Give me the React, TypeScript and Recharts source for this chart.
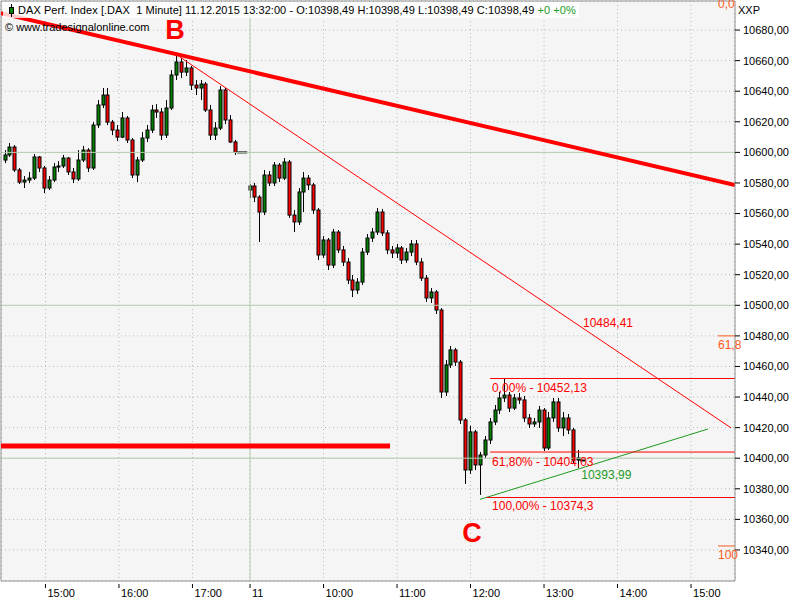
import React from "react";
import {
  ComposedChart,
  Bar,
  XAxis,
  YAxis,
  CartesianGrid,
  ReferenceLine,
  ReferenceDot,
} from "recharts";

// 4-minute candles
// 10.12.2015 from 14:27, one bar every 4 minutes
const day1Open = [
  10595.0, 10598.3, 10603.5, 10588.5, 10580.6, 10581.9, 10583.2, 10597.0, 10589.8, 10576.7,
  10581.9, 10590.4, 10591.1, 10596.3, 10587.2, 10582.6, 10595.0, 10601.5, 10589.8, 10617.9,
  10631.0, 10637.5, 10619.8, 10614.6, 10610.0, 10622.5, 10608.1, 10585.2, 10595.0, 10609.4,
  10614.6, 10627.7, 10626.4, 10611.3, 10629.0, 10650.6, 10659.1, 10652.5, 10655.2, 10644.0,
  10642.1, 10644.7, 10627.7, 10611.3, 10615.9, 10640.8, 10621.2, 10606.8, 10600.0, 10600.0,
];
const day1High = [
  10601.5, 10606.1, 10604.8, 10589.8, 10584.5, 10587.2, 10598.9, 10597.6, 10591.1, 10584.5,
  10593.0, 10594.3, 10598.3, 10597.0, 10589.8, 10601.5, 10604.2, 10602.8, 10619.8, 10634.2,
  10642.1, 10642.1, 10621.2, 10617.9, 10626.4, 10623.8, 10609.4, 10597.0, 10613.3, 10617.9,
  10631.0, 10631.6, 10629.0, 10634.2, 10653.8, 10663.0, 10661.7, 10660.4, 10656.5, 10647.3,
  10647.3, 10646.0, 10631.0, 10619.8, 10643.4, 10642.1, 10624.4, 10608.1, 10600.0, 10600.0,
];
const day1Low = [
  10593.0, 10597.0, 10587.2, 10579.3, 10576.7, 10580.0, 10581.9, 10587.2, 10573.4, 10575.4,
  10580.6, 10587.2, 10589.8, 10585.2, 10580.0, 10581.3, 10593.7, 10587.2, 10588.5, 10615.9,
  10629.0, 10617.9, 10611.3, 10607.4, 10609.4, 10606.1, 10583.2, 10580.6, 10593.7, 10606.8,
  10612.7, 10622.5, 10608.1, 10609.4, 10627.7, 10647.3, 10648.6, 10649.9, 10640.8, 10637.5,
  10634.2, 10626.4, 10608.1, 10608.1, 10614.6, 10618.5, 10606.1, 10598.3, 10600.0, 10600.0,
];
const day1Close = [
  10598.3, 10603.5, 10588.5, 10580.6, 10581.9, 10583.2, 10597.0, 10589.8, 10576.7, 10581.9,
  10590.4, 10591.1, 10596.3, 10587.2, 10582.6, 10595.0, 10601.5, 10589.8, 10617.9, 10631.0,
  10637.5, 10619.8, 10614.6, 10610.0, 10622.5, 10608.1, 10585.2, 10595.0, 10609.4, 10614.6,
  10627.7, 10626.4, 10611.3, 10629.0, 10650.6, 10659.1, 10652.5, 10655.2, 10644.0, 10642.1,
  10644.7, 10627.7, 10611.3, 10615.9, 10640.8, 10621.2, 10606.8, 10600.0, 10600.0, 10600.0,
];

// 11.12.2015 from 09:00 to 13:32
const day2Open = [
  10575.4, 10578.0, 10570.8, 10561.0, 10585.2, 10580.0, 10591.7, 10583.2, 10593.7, 10559.0,
  10554.5, 10574.1, 10583.2, 10578.7, 10562.3, 10532.9, 10542.7, 10526.3, 10547.9, 10536.2,
  10528.3, 10516.5, 10510.0, 10515.2, 10534.8, 10544.0, 10547.9, 10561.0, 10547.3, 10536.2,
  10534.2, 10537.5, 10529.6, 10534.8, 10540.1, 10528.3, 10517.8, 10504.8, 10508.7, 10496.9,
  10443.3, 10461.0, 10470.8, 10462.9, 10425.0, 10392.3, 10417.2, 10395.6, 10402.1, 10411.9,
  10423.7, 10431.5, 10439.4, 10441.3, 10432.8, 10439.4, 10438.1, 10426.3, 10422.4, 10423.7,
  10431.5, 10406.7, 10426.3, 10436.8, 10419.8, 10426.3, 10418.5, 10398.8, 10398.5,
];
const day2High = [
  10579.3, 10580.0, 10572.1, 10588.5, 10587.8, 10593.7, 10593.0, 10596.3, 10595.0, 10562.3,
  10576.7, 10587.2, 10585.2, 10580.0, 10563.6, 10545.3, 10544.0, 10549.9, 10549.2, 10538.8,
  10530.9, 10519.8, 10517.8, 10537.5, 10546.6, 10550.5, 10563.6, 10563.0, 10549.2, 10538.8,
  10540.1, 10538.8, 10537.5, 10542.7, 10542.7, 10530.9, 10519.8, 10511.3, 10510.0, 10498.2,
  10464.2, 10473.4, 10472.1, 10464.2, 10426.3, 10421.1, 10418.5, 10404.1, 10414.5, 10426.3,
  10434.8, 10443.3, 10452.1, 10443.3, 10442.0, 10442.7, 10440.7, 10428.9, 10426.3, 10434.2,
  10432.8, 10430.2, 10439.4, 10439.4, 10430.2, 10428.9, 10419.8, 10405.4, 10398.5,
];
const day2Low = [
  10570.2, 10567.5, 10541.4, 10559.0, 10578.0, 10578.0, 10580.6, 10581.9, 10557.1, 10547.9,
  10552.5, 10561.0, 10575.4, 10559.7, 10529.6, 10530.9, 10523.1, 10524.4, 10534.2, 10525.7,
  10513.9, 10505.4, 10507.4, 10513.3, 10532.9, 10541.4, 10546.0, 10545.3, 10533.5, 10530.9,
  10530.9, 10527.0, 10527.7, 10532.2, 10526.3, 10515.9, 10502.2, 10501.5, 10494.3, 10439.4,
  10440.7, 10459.0, 10460.3, 10422.4, 10383.2, 10389.7, 10392.3, 10376.0, 10400.2, 10409.3,
  10421.7, 10428.9, 10436.8, 10430.2, 10431.5, 10435.5, 10423.7, 10419.8, 10420.4, 10419.8,
  10404.7, 10405.4, 10423.7, 10417.2, 10414.5, 10415.8, 10396.2, 10393.6, 10398.5,
];
const day2Close = [
  10578.0, 10570.8, 10561.0, 10585.2, 10580.0, 10591.7, 10583.2, 10593.7, 10559.0, 10554.5,
  10574.1, 10583.2, 10578.7, 10562.3, 10532.9, 10542.7, 10526.3, 10547.9, 10536.2, 10528.3,
  10516.5, 10510.0, 10515.2, 10534.8, 10544.0, 10547.9, 10561.0, 10547.3, 10536.2, 10534.2,
  10537.5, 10529.6, 10534.8, 10540.1, 10528.3, 10517.8, 10504.8, 10508.7, 10496.9, 10443.3,
  10461.0, 10470.8, 10462.9, 10425.0, 10392.3, 10417.2, 10395.6, 10402.1, 10411.9, 10423.7,
  10431.5, 10439.4, 10441.3, 10432.8, 10439.4, 10438.1, 10426.3, 10422.4, 10423.7, 10431.5,
  10406.7, 10426.3, 10436.8, 10419.8, 10426.3, 10418.5, 10398.8, 10400.2, 10398.5,
];

// axis: minutes, 0 = 11.12 09:00, day 1 squeezed so its session ends at the separator
const BAR_MINUTES = 4;
const DAY1_START = 14 * 60 + 27;
const DAY1_SHIFT = 17 * 60 + 47;
const DAY2_START = 9 * 60;
const DAY2_SHIFT = 9 * 60;

const xTickPos = [-167, -107, -47, 0, 60, 120, 180, 240, 300, 360];
const xTickLabels = ["15:00", "16:00", "17:00", "11", "10:00", "11:00", "12:00", "13:00", "14:00", "15:00"];
const yTicks = [10340, 10360, 10380, 10400, 10420, 10440, 10460, 10480, 10500, 10520, 10540, 10560, 10580, 10600, 10620, 10640, 10660, 10680];
const yMajor = [10600, 10500, 10400];

const X_MIN = -203.3;
const X_MAX = 395.9;
const Y_MIN = 10319.7;
const Y_MAX = 10699.0;

// drawings (time position, price)
const bigTrend = [{ x: X_MIN, y: 10691.1 }, { x: X_MAX, y: 10578.7 }];
const thinTrend = [{ x: -57.1, y: 10662.3 }, { x: 392.7, y: 10419.8 }];
const greenTrend = [{ x: 187.8, y: 10373.1 }, { x: 373.9, y: 10419.1 }];
const support = [{ x: X_MIN, y: 10408.0 }, { x: 114.3, y: 10408.0 }];
const fibLevels = [
  { price: 10452.13, from: 196, text: "0,00% - 10452,13", labelY: 10445.9 },
  { price: 10404.03, from: 196, text: "61,80% - 10404,03", labelY: 10397.5 },
  { price: 10374.3, from: 193, text: "100,00% - 10374,3", labelY: 10368.8 },
];
const edgeLevels = [
  { price: 10480.0, text: "61,8", labelY: 10474.0 },
  { price: 10342.6, text: "100", labelY: 10336.7 },
];

const build = (o: number[], h: number[], l: number[], c: number[], start: number, shift: number) =>
  o.map((open, i) => ({
    pos: start + i * BAR_MINUTES - shift,
    open,
    high: h[i],
    low: l[i],
    close: c[i],
  }));

const data = [
  ...build(day1Open, day1High, day1Low, day1Close, DAY1_START, DAY1_SHIFT),
  ...build(day2Open, day2High, day2Low, day2Close, DAY2_START, DAY2_SHIFT),
];

const FONT = "'Liberation Sans', Arial, sans-serif";
const RED = "#ff0000";
const ORANGE = "#ff5a1a";
const GREEN_LINE = "#1e9a1e";

const Candle = (props: any) => {
  const { x, y, width, height, payload } = props;
  const { open, close, high, low } = payload;
  const top = Math.min(y, y + height);
  const h = Math.abs(height);
  const span = high - low;
  const py = (v: number) => (span > 0 ? top + ((high - v) / span) * h : top);
  const cx = Math.round(x + width / 2) + 0.5;
  if (span === 0) {
    return <line x1={x - 0.5} x2={x + width + 0.5} y1={top} y2={top} stroke="#000" strokeWidth={2} />;
  }
  const bTop = py(Math.max(open, close));
  const bBot = py(Math.min(open, close));
  const up = close >= open;
  return (
    <g>
      <line x1={cx} x2={cx} y1={top} y2={top + h} stroke="#000" strokeWidth={1} />
      <rect
        x={cx - 1.5}
        y={bTop}
        width={3}
        height={Math.max(bBot - bTop, 1)}
        fill={up ? "#008000" : RED}
        stroke="#000"
        strokeWidth={1}
      />
    </g>
  );
};

const XTick = (props: any) => {
  const { x, y, payload } = props;
  const i = xTickPos.indexOf(payload.value);
  return (
    <g>
      <line x1={x} x2={x} y1={y + 3} y2={y + 7} stroke="#000" />
      <text x={x + 2} y={y + 16} fontSize={11} fontFamily={FONT} fill="#000" textAnchor="start">
        {xTickLabels[i]}
      </text>
    </g>
  );
};

const textLabel = (text: string, color: string, size = 12, weight: any = "normal") => (p: any) => {
  const { viewBox } = p;
  return (
    <text
      x={viewBox.x}
      y={viewBox.y}
      dy="0.35em"
      fontSize={size}
      fontFamily={FONT}
      fontWeight={weight}
      fill={color}
      textAnchor={weight === "bold" ? "middle" : "start"}
    >
      {text}
    </text>
  );
};

export default function App() {
  return (
    <div style={{ position: "relative", width: 800, height: 600, background: "#fff" }}>
      <style>{`body{margin:0}`}</style>
      <ComposedChart
        width={800}
        height={600}
        data={data}
        margin={{ top: 1, right: 0, left: 1, bottom: 0 }}
      >
        <CartesianGrid fill="#f5f5f5" stroke="#b4bcb4" strokeDasharray="1 3" />
        <XAxis
          dataKey="pos"
          type="number"
          domain={[X_MIN, X_MAX]}
          allowDataOverflow
          ticks={xTickPos}
          interval={0}
          height={19}
          tickLine={false}
          tickSize={0}
          tickMargin={0}
          axisLine={{ stroke: "#909090" }}
          tick={<XTick />}
        />
        <YAxis
          orientation="right"
          type="number"
          domain={[Y_MIN, Y_MAX]}
          allowDataOverflow
          ticks={yTicks}
          interval={0}
          width={65}
          tickSize={5}
          tickMargin={3}
          tickLine={{ stroke: "#000" }}
          axisLine={{ stroke: "#909090" }}
          tick={{ fill: "#000", fontSize: 11, fontFamily: FONT }}
          tickFormatter={(v: number) => v.toFixed(2).replace(".", ",")}
        />

        {yMajor.map((v) => (
          <ReferenceLine key={v} y={v} stroke="#b7cdb2" strokeWidth={1} />
        ))}
        <ReferenceLine x={0} stroke="#b7cdb2" strokeWidth={1} />
        <ReferenceLine x={X_MIN} stroke="#909090" />
        <ReferenceLine y={Y_MAX} stroke="#909090" />

        <Bar
          dataKey={(d: any) => [d.low, d.high]}
          barSize={4}
          shape={<Candle />}
          isAnimationActive={false}
        />

        <ReferenceLine segment={support} stroke={RED} strokeWidth={5} ifOverflow="hidden" />
        <ReferenceLine segment={bigTrend} stroke={RED} strokeWidth={4} ifOverflow="hidden" />
        <ReferenceLine segment={thinTrend} stroke={RED} strokeWidth={1} ifOverflow="hidden" />
        <ReferenceLine segment={greenTrend} stroke={GREEN_LINE} strokeWidth={1} ifOverflow="hidden" />

        {fibLevels.map((f) => (
          <ReferenceLine
            key={f.text}
            segment={[{ x: f.from, y: f.price }, { x: X_MAX, y: f.price }]}
            stroke={RED}
            strokeWidth={1}
            ifOverflow="hidden"
          />
        ))}
        {fibLevels.map((f) => (
          <ReferenceDot
            key={"l" + f.text}
            x={197.6}
            y={f.labelY}
            r={0}
            stroke="none"
            label={textLabel(f.text, RED)}
          />
        ))}
        {edgeLevels.map((f) => (
          <ReferenceLine
            key={f.text}
            segment={[{ x: 382, y: f.price }, { x: X_MAX, y: f.price }]}
            stroke={ORANGE}
            strokeWidth={1}
            ifOverflow="hidden"
          />
        ))}
        {edgeLevels.map((f) => (
          <ReferenceDot key={"l" + f.text} x={382} y={f.labelY} r={0} stroke="none" label={textLabel(f.text, ORANGE)} />
        ))}
        <ReferenceDot x={382} y={10697.5} r={0} stroke="none" label={textLabel("0,0", ORANGE)} />

        <ReferenceDot x={271.8} y={10488.4} r={0} stroke="none" label={textLabel("10484,41", RED)} />
        <ReferenceDot x={270.4} y={10389.1} r={0} stroke="none" label={textLabel("10393,99", GREEN_LINE)} />
        <ReferenceDot x={-61.2} y={10680.5} r={0} stroke="none" label={textLabel("B", RED, 27, "bold")} />
        <ReferenceDot x={181.2} y={10351.1} r={0} stroke="none" label={textLabel("C", RED, 27, "bold")} />
      </ComposedChart>

      <div
        style={{
          position: "absolute",
          left: 3,
          top: 2,
          height: 16,
          paddingRight: 3,
          background: "rgba(255,255,255,0.8)",
          fontFamily: FONT,
          fontSize: 11,
          letterSpacing: 0.06,
          lineHeight: "16px",
          color: "#000",
          whiteSpace: "nowrap",
          display: "flex",
          alignItems: "center",
        }}
      >
        <svg width={14} height={16} style={{ marginRight: 1 }}>
          <line x1={8.5} x2={8.5} y1={2} y2={15} stroke="#000" />
          <rect x={6.5} y={5.5} width={4} height={6} fill="#008000" stroke="#000" />
        </svg>
        <span>
          DAX Perf. Index [.DAX&nbsp;&nbsp;1 Minute] 11.12.2015 13:32:00 - O:10398,49 H:10398,49 L:10398,49 C:10398,49{" "}
          <span style={{ color: "#1ca01c" }}>+0 +0%</span>
        </span>
      </div>
      <div
        style={{
          position: "absolute",
          left: 5,
          top: 19,
          fontFamily: FONT,
          fontSize: 11,
          lineHeight: "16px",
          color: "#000",
          whiteSpace: "nowrap",
        }}
      >
        © www.tradesignalonline.com
      </div>
      <div
        style={{
          position: "absolute",
          left: 738,
          top: 3,
          fontFamily: FONT,
          fontSize: 11,
          lineHeight: "14px",
          color: "#000",
        }}
      >
        XXP
      </div>
    </div>
  );
}
